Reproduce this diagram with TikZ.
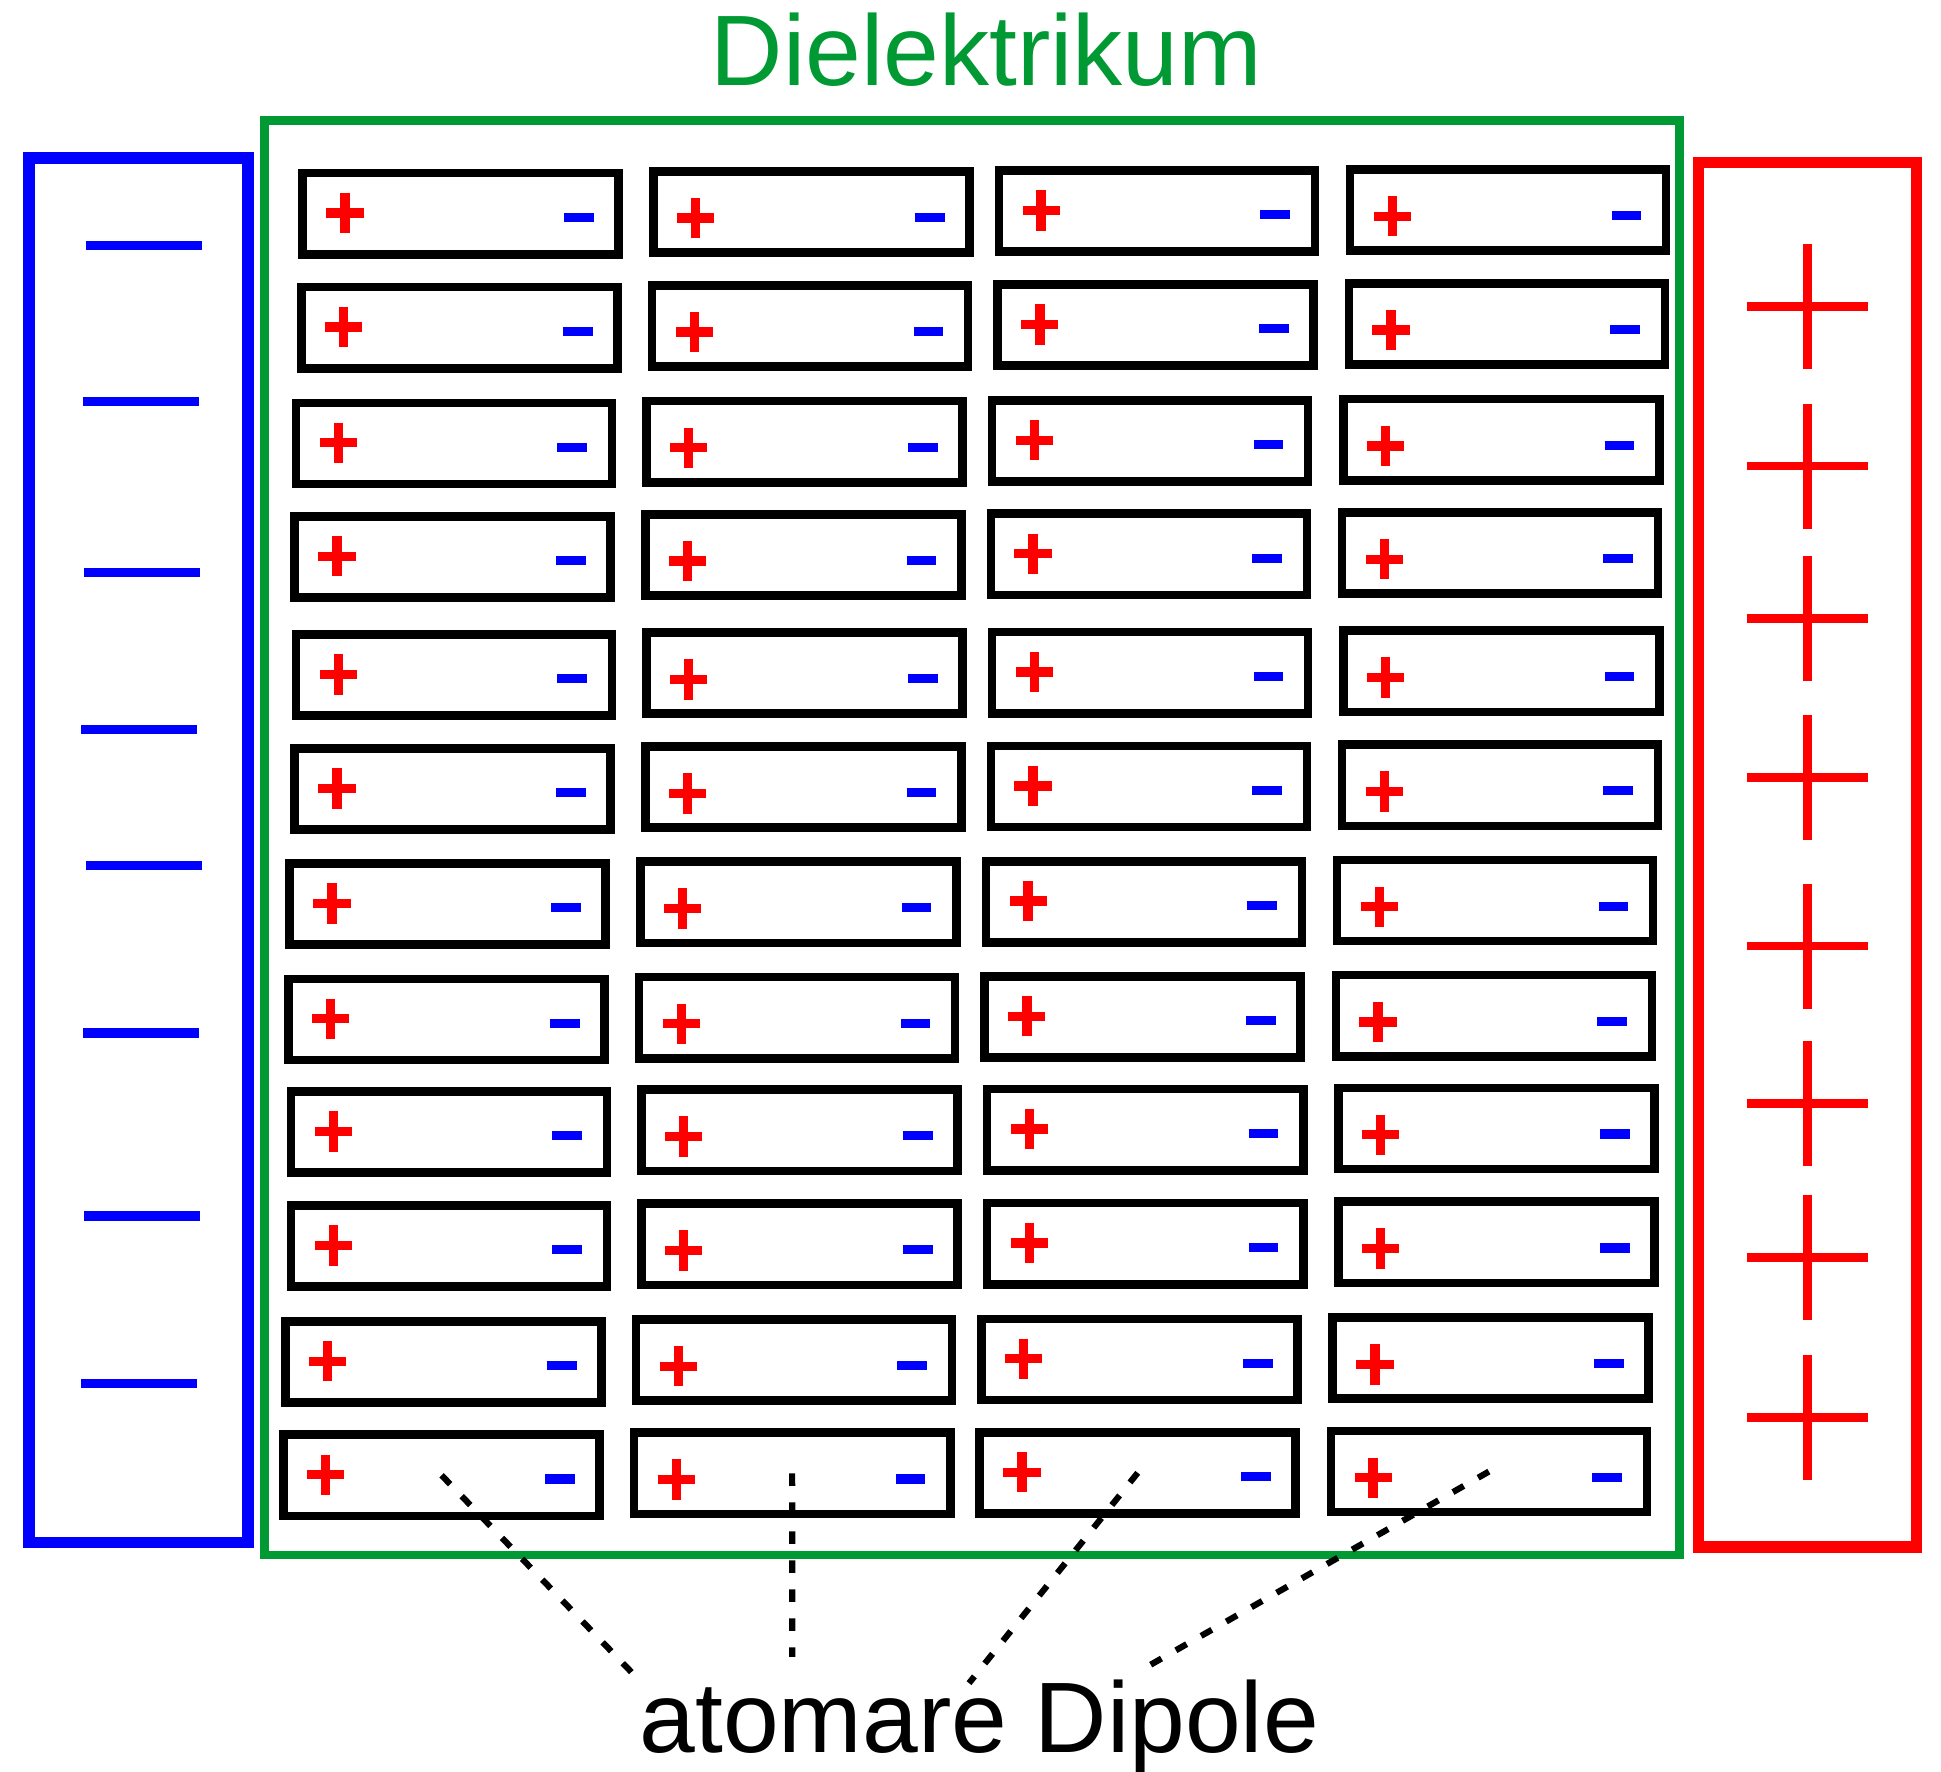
\documentclass[tikz,border=0pt]{standalone}
\usepackage{fontspec}
\setmainfont{Liberation Sans}
\definecolor{dielgreen}{RGB}{0,153,51}
\tikzset{
  dipole/.style={draw, line width=0.07cm, minimum width=2.55cm, minimum height=0.655cm, inner sep=0pt},
  poscharge/.style={red, line width=0.075cm},
  negcharge/.style={blue, line width=0.073cm},
  leader/.style={line width=0.05cm, dash pattern=on 0.1cm off 0.134cm},
  bigtext/.style={font=\fontsize{23}{27}\selectfont, inner sep=0pt, anchor=base}
}

\begin{document}
\begin{tikzpicture}[x=0.01cm, y=-0.01cm]
  \useasboundingbox (0,0) rectangle (1567,1430.5);
  \draw[blue, line width=0.093cm] (23.5,127.6) rectangle (200.2,1245.4);
  \foreach \x/\y in {69.6/198, 67/324.4, 68/462, 65.4/588.7, 69.7/698.5, 67.3/833.9, 68.1/981.7, 65.4/1116.6}
    \draw[blue, line width=0.074cm] (\x,\y) -- ++(93.4,0);
  \draw[red, line width=0.092cm] (1371,131) rectangle (1547.4,1248.9);
  \foreach \y in {247.4, 376.3, 499.4, 627.9, 763.8, 891, 1015, 1144.2}
    \draw[red, line width=0.07cm] (1410.3,\y) -- (1507.8,\y) (1459.1,\y-50.5) -- (1459.1,\y+50.5);
  \draw[dielgreen, line width=0.067cm] (213.5,97.3) rectangle (1355.8,1255.4);
  \node[bigtext, dielgreen] (title) at (796.4,69.4) {Dielektrikum};

  \foreach \x/\y [count=\r] in {372/172.5, 371/264.5, 366.5/358, 365.5/449.5, 366.5/545, 365.5/637,
                                361.5/730, 360.5/823, 362.5/914, 362.5/1006, 358/1099.5, 356.5/1191}
    \foreach \dx/\dy/\py/\my [count=\c] in {0/0/-0.5/3, 283/-1.5/5/4.5, 562/-2/-0.5/3, 845.5/-3/5/4.5} {
      \node[dipole] (d-\r-\c) at ({\x+\dx},{\y+\dy}) {};
      \draw[poscharge] ([shift={(-93.5,\py)}]d-\r-\c.center) +(-15,0) -- +(15,0) +(0,-16.25) -- +(0,16.25);
      \draw[negcharge] ([shift={(95.5,\my)}]d-\r-\c.center) +(-12,0) -- +(12,0);
    }

  \node[bigtext] (label) at (790.7,1414.6) {atomare Dipole};
  \coordinate (e1) at (513.3,1353.6);
  \coordinate (e2) at (639.6,1337.7);
  \coordinate (e3) at (782.3,1358.8);
  \coordinate (e4) at (923.9,1346.8);
  \draw[leader] (d-12-1.center) -- (e1);
  \draw[leader] (d-12-2.center) -- (e2);
  \draw[leader] (d-12-3.center) -- (e3);
  \draw[leader] (d-12-4.center) -- (e4);
\end{tikzpicture}
\end{document}
